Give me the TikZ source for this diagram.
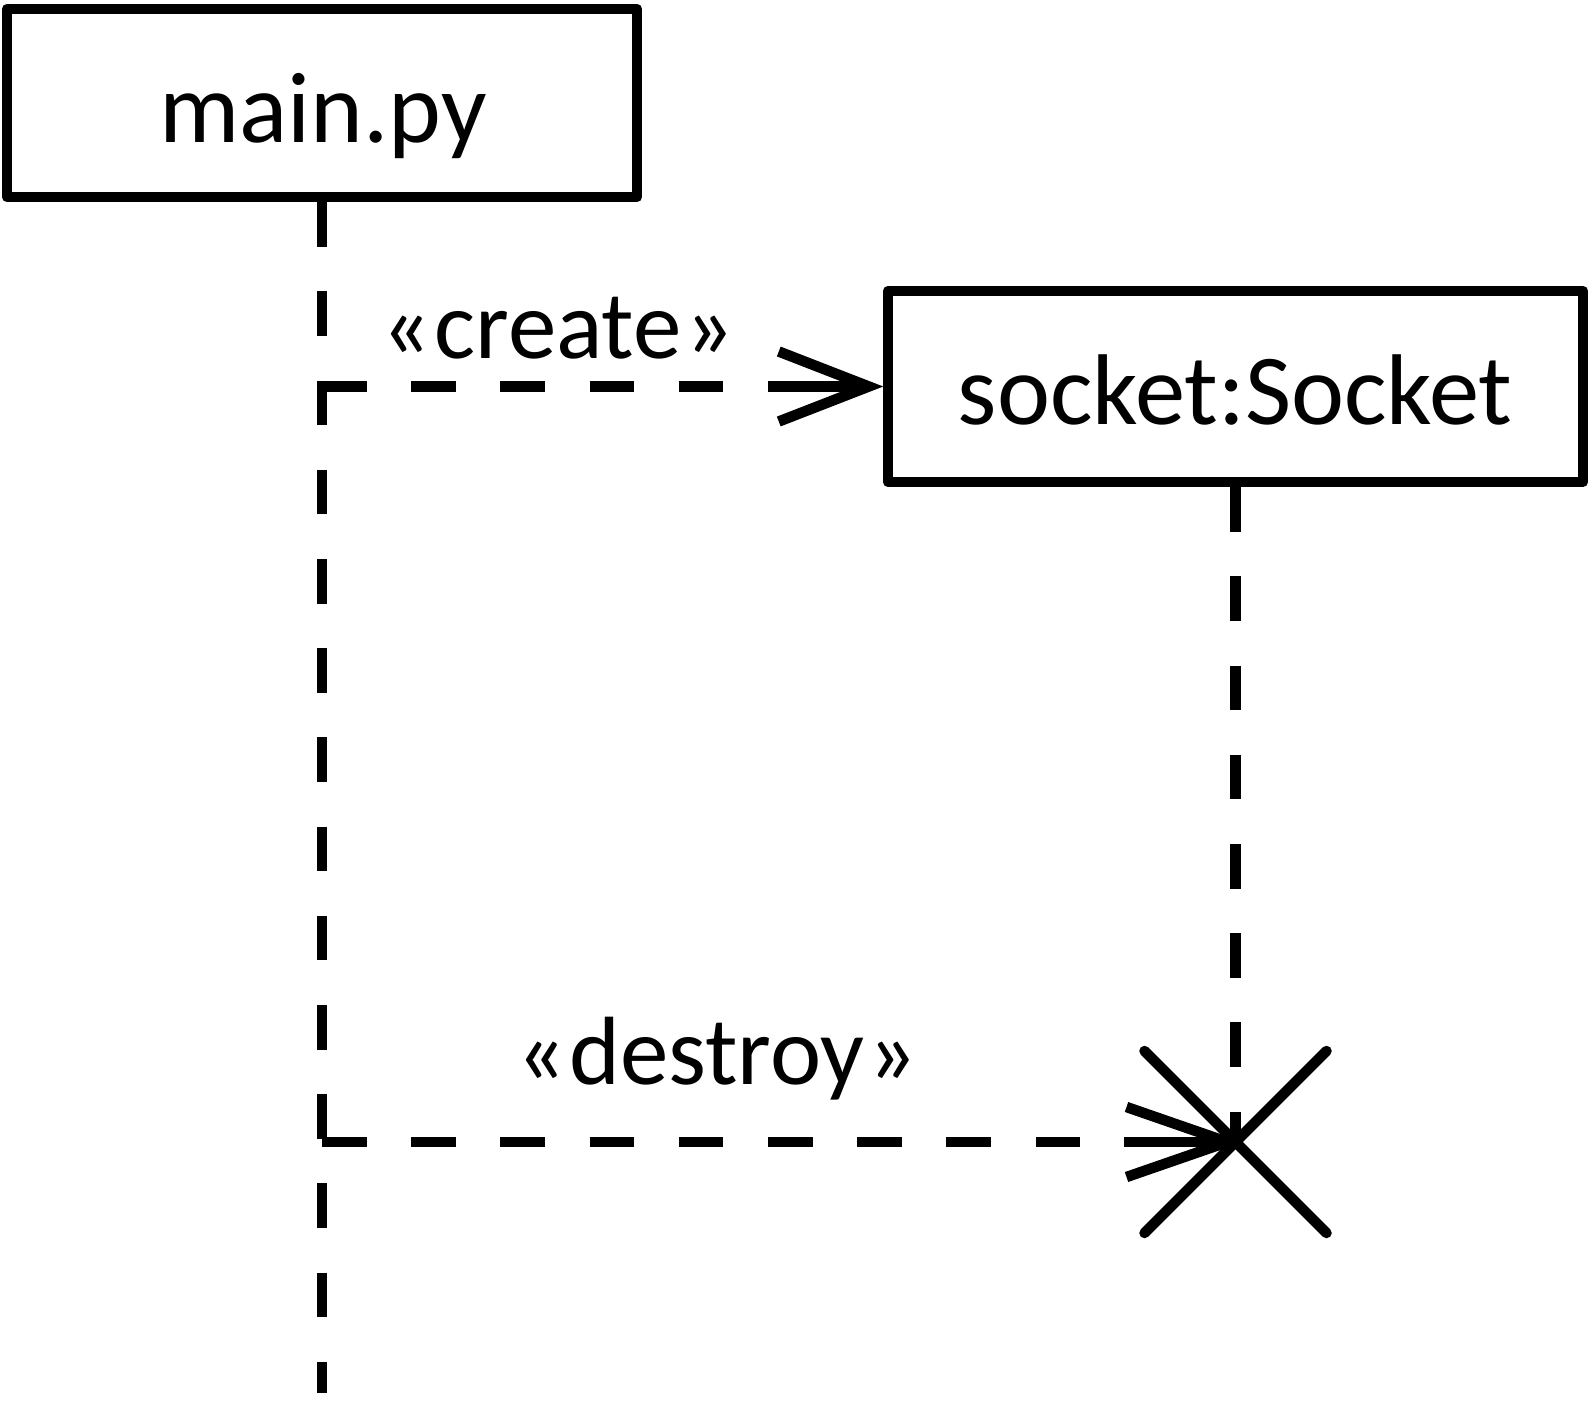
\documentclass[tikz,border=0pt]{standalone}
\usepackage{fontspec}
\setmainfont{Carlito}
\begin{document}
\begin{tikzpicture}[x=1pt,y=-1pt,
  lw/.style={line width=10.5pt},
  box/.style={draw, lw, line join=round, inner sep=0pt},
  boxtext/.style={inner sep=0pt, anchor=base, font=\fontsize{100.5pt}{120pt}\selectfont},
  lbl/.style={inner sep=0pt, anchor=base, font=\fontsize{97pt}{116pt}\selectfont},
  dashline/.style={lw, line cap=butt, dash pattern=on 44.6pt off 44.6pt},
  barb/.style={lw, solid, line join=miter, line cap=butt},
  cross/.style={lw, solid, line cap=round}]
\useasboundingbox (0,0) rectangle (1589,1411);
\fill[white] (0,0) rectangle (1589,1411);
% lifeline heads
\node[box, minimum width=630pt, minimum height=188pt] (main) at (322,103) {};
\node[boxtext] (maint) at (323,142) {main.py};
\node[box, minimum width=695pt, minimum height=191pt] (socket) at (1235.5,386.5) {};
\node[boxtext] (sockt) at (1235,424) {socket:Socket};
% coordinates
\coordinate (mend) at (322,1393);
\coordinate (xc) at (socket.south |- 0,1142);
\coordinate (c1) at (main.south |- socket.west);
\coordinate (ctip) at ([xshift=-14pt]socket.west);
\coordinate (dtip) at ([xshift=-8pt]xc);
\coordinate (d1) at (main.south |- xc);
% lifelines
\draw[dashline] (main.south) -- (mend);
\draw[dashline] (socket.south) -- (xc);
% create message
\draw[dashline] (c1) -- (ctip);
\draw[barb] ([xshift=-100pt]ctip) -- (ctip);
\draw[barb] ([shift={(-90,-35)}]ctip) -- (ctip) -- ([shift={(-90,35)}]ctip);
\node[lbl] (lcreate) at (558,358) {«\kern3pt create\kern3pt»};
% destroy message
\draw[dashline] (d1) -- (dtip);
\draw[barb] ([xshift=-104pt]dtip) -- (dtip);
\draw[barb] ([shift={(-101,-35)}]dtip) -- (dtip) -- ([shift={(-101,35)}]dtip);
\node[lbl] (ldestroy) at (717,1084) {«\kern3pt destroy\kern3pt»};
% destruction mark
\draw[cross] ([shift={(-91,-91)}]xc) -- ([shift={(91,91)}]xc);
\draw[cross] ([shift={(91,-91)}]xc) -- ([shift={(-91,91)}]xc);
\end{tikzpicture}
\end{document}
